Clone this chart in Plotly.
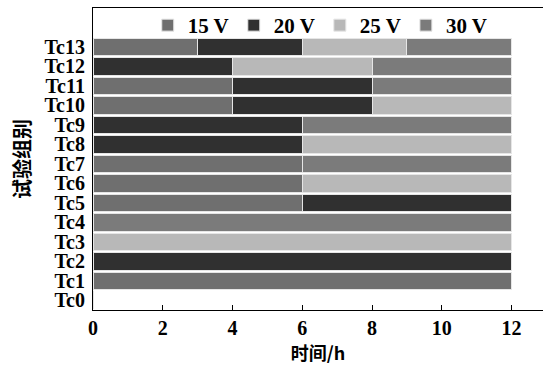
import plotly.graph_objects as go

categories = ["Tc0", "Tc1", "Tc2", "Tc3", "Tc4", "Tc5", "Tc6", "Tc7",
              "Tc8", "Tc9", "Tc10", "Tc11", "Tc12", "Tc13"]
series_names = ["15 V", "20 V", "25 V", "30 V"]
hours_15v = [0, 12, 0, 0, 0, 6, 6, 6, 0, 0, 4, 4, 0, 3]
hours_20v = [0, 0, 12, 0, 0, 6, 0, 0, 6, 6, 4, 4, 4, 3]
hours_25v = [0, 0, 0, 12, 0, 0, 6, 0, 6, 0, 4, 0, 4, 3]
hours_30v = [0, 0, 0, 0, 12, 0, 0, 6, 0, 6, 0, 4, 4, 3]
colors = ["#6f6f6f", "#303030", "#b8b8b8", "#7b7b7b"]
x_ticks = [0, 2, 4, 6, 8, 10, 12]

fig = go.Figure()
for name, vals, col in zip(series_names, [hours_15v, hours_20v, hours_25v, hours_30v], colors):
    fig.add_trace(go.Bar(
        y=categories, x=vals, name=name, orientation="h",
        marker=dict(color=col, line=dict(color="#e6e6e6", width=1)),
    ))

serif = "Liberation Serif, Times New Roman, serif"
cjk = "Noto Sans CJK SC"
fig.update_layout(
    barmode="stack",
    bargap=0.1,
    width=543, height=365,
    margin=dict(l=93, r=0, t=8, b=55),
    paper_bgcolor="white", plot_bgcolor="white",
    font=dict(family=serif, size=20, color="black"),
    showlegend=True,
    legend=dict(
        orientation="h", traceorder="normal",
        x=0.505, xanchor="center", y=1.01, yanchor="top",
        font=dict(family=serif, size=21, color="black", weight="bold"),
        bgcolor="rgba(0,0,0,0)", itemwidth=30, tracegroupgap=0,
    ),
    xaxis=dict(
        range=[0, 12.9], tickvals=x_ticks, ticks="inside", ticklen=5,
        tickcolor="black", showline=True, linecolor="black", linewidth=1.2,
        mirror=True, showgrid=False, zeroline=False,
        tickfont=dict(family=serif, size=20, color="black", weight="bold"),
        title=dict(text="时间/h", standoff=6,
                   font=dict(family=cjk, size=18, color="black", weight="bold")),
    ),
    yaxis=dict(
        type="category", categoryorder="array", categoryarray=categories,
        tickmode="array", tickvals=categories, ticktext=categories,
        range=[-0.5, 15.0], showline=True, linecolor="black", linewidth=1.2,
        ticks="", showgrid=False, zeroline=False, ticklabelstandoff=3,
        tickfont=dict(family=serif, size=20, color="black", weight="bold"),
        title=dict(text="试验组别", standoff=8,
                   font=dict(family=cjk, size=20, color="black", weight="bold")),
    ),
)

fig.write_html("out.html")
